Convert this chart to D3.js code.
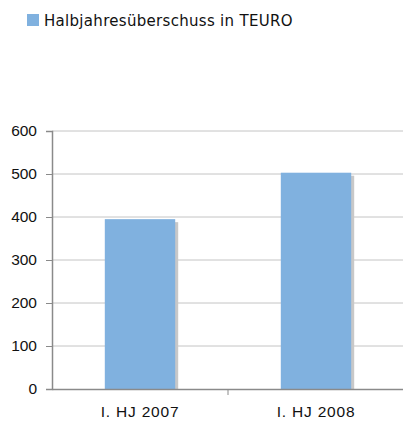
<!DOCTYPE html>
<html>
<head>
<meta charset="utf-8">
<script src="https://cdn.jsdelivr.net/npm/d3@7"></script>
<style>
  body { margin: 0; background: #fff; }
  svg { display: block; font-family: "DejaVu Sans", Verdana, sans-serif; }
</style>
</head>
<body>
<div id="chart"></div>
<script>
const categories = ["I. HJ 2007", "I. HJ 2008"];
const values = [395, 503];
const yTicks = [0, 100, 200, 300, 400, 500, 600];
const seriesName = "Halbjahresüberschuss in TEURO";

const width = 403;
const height = 421;
const margin = { top: 131, right: -1, bottom: 32, left: 52 };

const svg = d3
  .select("#chart")
  .append("svg")
  .attr("width", width)
  .attr("height", height);

const x = d3
  .scaleBand()
  .domain(categories)
  .range([margin.left, width - margin.right])
  .paddingInner(0.6)
  .paddingOuter(0.3);

const y = d3
  .scaleLinear()
  .domain([0, 600])
  .range([height - margin.bottom, margin.top]);

// gridlines
svg
  .append("g")
  .selectAll("line")
  .data(yTicks.slice(1))
  .enter()
  .append("line")
  .attr("x1", margin.left)
  .attr("x2", width)
  .attr("y1", (d) => y(d))
  .attr("y2", (d) => y(d))
  .attr("stroke", "#c4c4c4")
  .attr("stroke-width", 1);

// bar shadows
svg
  .selectAll(".shadow")
  .data(values)
  .enter()
  .append("rect")
  .attr("class", "shadow")
  .attr("x", (d, i) => x(categories[i]) + 3)
  .attr("y", (d) => y(d) + 3)
  .attr("width", x.bandwidth())
  .attr("height", (d) => y(0) - y(d) - 3)
  .attr("fill", "#c8c8c8");

// bars
svg
  .selectAll(".bar")
  .data(values)
  .enter()
  .append("rect")
  .attr("class", "bar")
  .attr("x", (d, i) => x(categories[i]))
  .attr("y", (d) => y(d))
  .attr("width", x.bandwidth())
  .attr("height", (d) => y(0) - y(d))
  .attr("fill", "#80b1df");

// y axis
const yAxis = d3.axisLeft(y).tickValues(yTicks).tickSize(6).tickPadding(9);
svg
  .append("g")
  .attr("transform", `translate(${margin.left},0)`)
  .call(yAxis)
  .call((g) => g.select(".domain").attr("stroke", "#8a8a8a").attr("stroke-width", 1.5))
  .call((g) => g.selectAll(".tick line").attr("stroke", "#8a8a8a"))
  .call((g) =>
    g.selectAll(".tick text").attr("font-size", "15.5px").attr("fill", "#111")
  );

// x axis
const xAxis = d3.axisBottom(x).tickSize(0).tickPadding(17);
svg
  .append("g")
  .attr("transform", `translate(0,${y(0)})`)
  .call(xAxis)
  .call((g) => g.select(".domain").attr("stroke", "#8a8a8a").attr("stroke-width", 1.5))
  .call((g) =>
    g
      .selectAll(".tick text")
      .attr("font-size", "15.5px")
      .attr("letter-spacing", "0.8px")
      .attr("fill", "#111")
  );

// category divider tick
svg
  .append("line")
  .attr("x1", x(categories[1]) - (x.step() - x.bandwidth()) / 2)
  .attr("x2", x(categories[1]) - (x.step() - x.bandwidth()) / 2)
  .attr("y1", y(0))
  .attr("y2", y(0) + 6)
  .attr("stroke", "#8a8a8a");

// legend
svg
  .append("rect")
  .attr("x", 27)
  .attr("y", 14)
  .attr("width", 12)
  .attr("height", 12)
  .attr("fill", "#80b1df");

svg
  .append("text")
  .attr("x", 44)
  .attr("y", 26)
  .attr("font-size", "15px")
  .attr("letter-spacing", "0.3px")
  .attr("fill", "#111")
  .text(seriesName);
</script>
</body>
</html>
